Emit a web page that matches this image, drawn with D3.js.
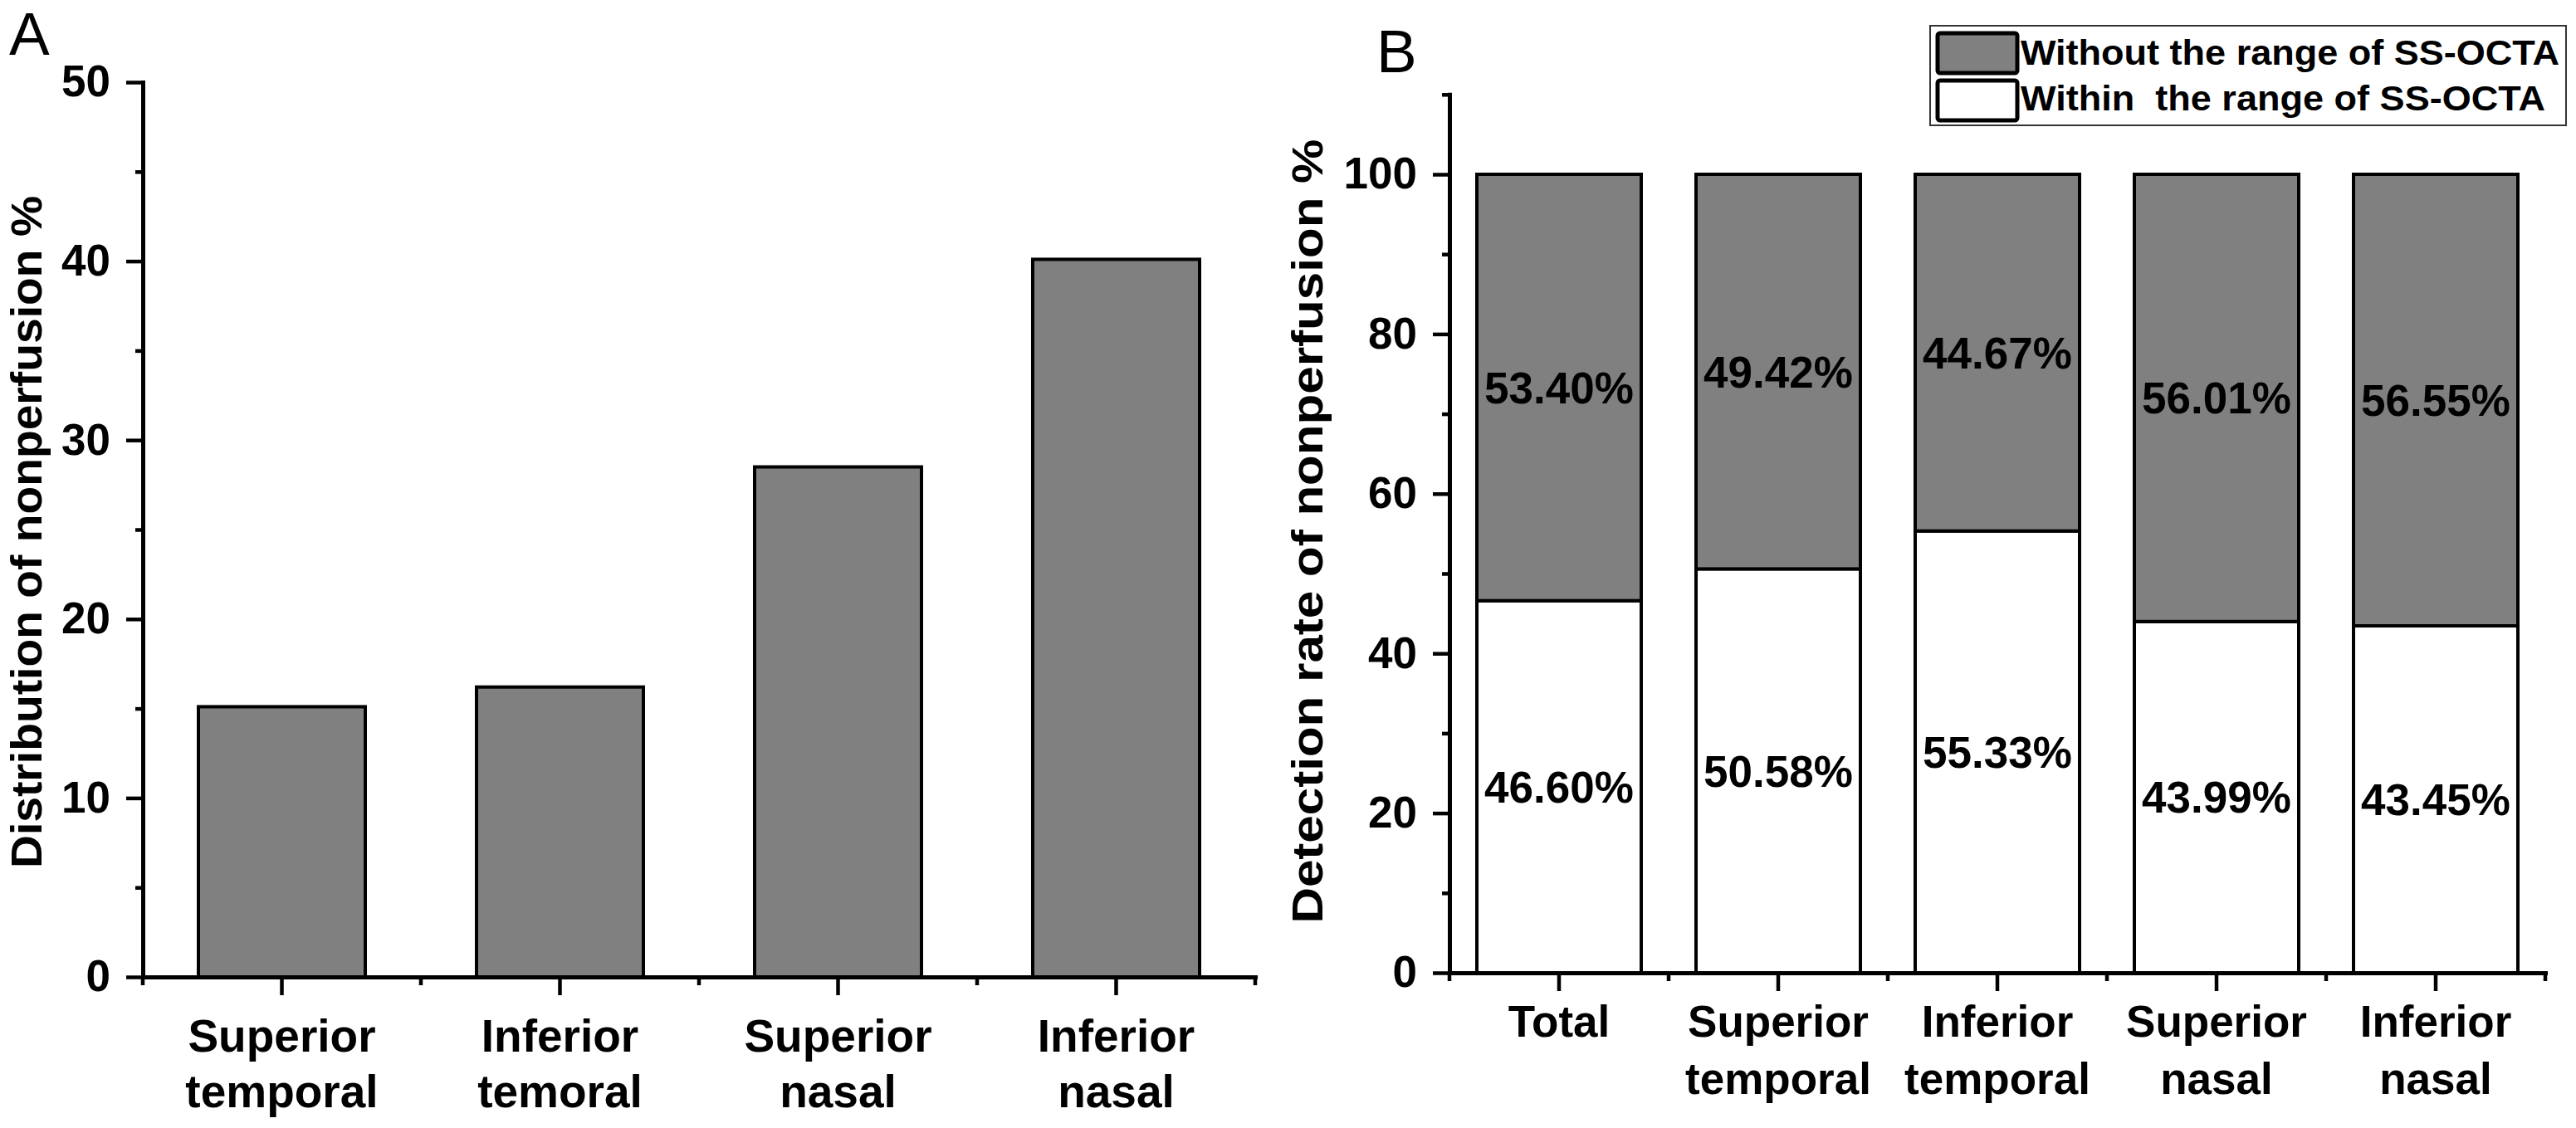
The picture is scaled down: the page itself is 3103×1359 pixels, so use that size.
<!DOCTYPE html>
<html>
<head>
<meta charset="utf-8">
<script src="https://cdn.jsdelivr.net/npm/d3@7"></script>
<style>
  html, body { margin: 0; padding: 0; background: #fff; }
  svg { display: block; }
  text { font-family: "Liberation Sans", Arial, Helvetica, sans-serif; fill: #000; }
</style>
</head>
<body>
<svg id="chart" width="3103" height="1359"></svg>
<script>
// ---------------- data ----------------
const categoriesA = [["Superior", "temporal"], ["Inferior", "temoral"], ["Superior", "nasal"], ["Inferior", "nasal"]];
const valuesA = [15.1, 16.2, 28.5, 40.1];
const yTicksA = [0, 10, 20, 30, 40, 50];
const yMinorA = [5, 15, 25, 35, 45];

const categoriesB = [["Total"], ["Superior", "temporal"], ["Inferior", "temporal"], ["Superior", "nasal"], ["Inferior", "nasal"]];
const withinB = [46.60, 50.58, 55.33, 43.99, 43.45];
const withoutB = [53.40, 49.42, 44.67, 56.01, 56.55];
const yTicksB = [0, 20, 40, 60, 80, 100];
const yMinorB = [10, 30, 50, 70, 90, 110];
const seriesNames = ["Without the range of SS-OCTA", "Within  the range of SS-OCTA"];

// ---------------- setup ----------------
const svg = d3.select("#chart");
const GRAY = "#808080";
const FONT = 53;

function styleAxis(g, width) {
  g.selectAll(".domain").attr("stroke", "#000").attr("stroke-width", width).attr("stroke-linecap", "square");
  g.selectAll(".tick line").attr("stroke", "#000").attr("stroke-width", 4.5);
  g.selectAll(".tick text").attr("font-size", FONT).attr("font-weight", "bold").attr("fill", "#000")
    .attr("font-family", '"Liberation Sans", Arial, sans-serif');
}

function drawPanel(opt) {
  const keys = opt.cats.map((c, i) => "c" + i);
  const x = d3.scaleBand().domain(keys).range([opt.x0, opt.x1])
    .paddingInner(opt.pad).paddingOuter(opt.pad / 2);
  const y = d3.scaleLinear().domain([0, opt.ymax]).range([opt.y0, opt.yTop]);

  // minor y ticks
  const gMinY = svg.append("g").attr("transform", `translate(${opt.x0},0)`)
    .call(d3.axisLeft(y).tickValues(opt.yMinor).tickSize(9).tickSizeOuter(0).tickFormat(""));
  styleAxis(gMinY, 5);
  gMinY.select(".domain").remove();

  // bars
  opt.drawBars(x, y, keys);

  // y axis
  const gy = svg.append("g").attr("transform", `translate(${opt.x0},0)`)
    .call(d3.axisLeft(y).tickValues(opt.yTicks).tickSize(20).tickSizeOuter(0).tickPadding(19).tickFormat(d3.format("d")));
  styleAxis(gy, 5);

  // x axis major ticks
  const gx = svg.append("g").attr("transform", `translate(0,${opt.y0})`)
    .call(d3.axisBottom(x).tickSize(22).tickSizeOuter(0).tickFormat(""));
  styleAxis(gx, 5);

  // x minor ticks at band boundaries
  const step = x.step();
  const bounds = keys.map(k => x(k) - step * opt.pad / 2);
  bounds.push(x(keys[keys.length - 1]) + x.bandwidth() + step * opt.pad / 2);
  svg.append("g").selectAll("line").data(bounds).join("line")
    .attr("x1", d => d).attr("x2", d => d)
    .attr("y1", opt.y0).attr("y2", opt.y0 + 10)
    .attr("stroke", "#000").attr("stroke-width", 4.5);

  // category labels
  const lab = svg.append("g").selectAll("text").data(opt.cats).join("text")
    .attr("text-anchor", "middle").attr("font-size", opt.catFont).attr("font-weight", "bold");
  lab.selectAll("tspan").data((d, i) => d.map(t => ({ t, i }))).join("tspan")
    .attr("x", d => x(keys[d.i]) + x.bandwidth() / 2)
    .attr("y", (d, j) => opt.labBase + j * opt.labLine)
    .text(d => d.t);

  // y title
  svg.append("text")
    .attr("transform", `translate(${opt.titleX},${opt.titleY}) rotate(-90)`)
    .attr("text-anchor", "middle").attr("font-size", 51).attr("font-weight", "bold")
    .attr("textLength", opt.titleLen).attr("lengthAdjust", "spacingAndGlyphs")
    .text(opt.title);

  // panel letter
  svg.append("text").attr("x", opt.letterX).attr("y", opt.letterY)
    .attr("font-size", 73).text(opt.letter);
}

// ---------------- Panel A ----------------
drawPanel({
  cats: categoriesA, x0: 172, x1: 1512, pad: 0.4, y0: 1177, yTop: 99, ymax: 50,
  yTicks: yTicksA, yMinor: yMinorA, catFont: 55, labBase: 1267, labLine: 67,
  title: "Distribution of nonperfusion %", titleX: 50, titleY: 641, titleLen: 810,
  letter: "A", letterX: 11, letterY: 66,
  drawBars: (x, y, keys) => {
    svg.append("g").selectAll("rect").data(valuesA).join("rect")
      .attr("x", (d, i) => x(keys[i])).attr("width", x.bandwidth())
      .attr("y", d => y(d)).attr("height", d => y(0) - y(d))
      .attr("fill", GRAY).attr("stroke", "#000").attr("stroke-width", 4);
  }
});

// ---------------- Panel B ----------------
drawPanel({
  cats: categoriesB, x0: 1746, x1: 3066, pad: 0.25, y0: 1172, yTop: 1172 - 110 * 9.62, ymax: 110,
  yTicks: yTicksB, yMinor: yMinorB, catFont: 53, labBase: 1249, labLine: 69,
  title: "Detection rate of nonperfusion %", titleX: 1593, titleY: 640, titleLen: 945,
  letter: "B", letterX: 1658, letterY: 87,
  drawBars: (x, y, keys) => {
    const rows = keys.map((k, i) => ({ key: k, within: withinB[i], without: withoutB[i] }));
    const stack = d3.stack().keys(["within", "without"])(rows);
    const fills = { within: "#ffffff", without: GRAY };
    const g = svg.append("g");
    stack.forEach(layer => {
      g.append("g").selectAll("rect").data(layer).join("rect")
        .attr("x", d => x(d.data.key)).attr("width", x.bandwidth())
        .attr("y", d => y(d[1])).attr("height", d => y(d[0]) - y(d[1]))
        .attr("fill", fills[layer.key]).attr("stroke", "#000").attr("stroke-width", 4);
    });
    stack.forEach(layer => {
      g.append("g").selectAll("text").data(layer).join("text")
        .attr("x", d => x(d.data.key) + x.bandwidth() / 2)
        .attr("y", d => y((d[0] + d[1]) / 2))
        .attr("dy", "0.36em")
        .attr("text-anchor", "middle").attr("font-size", 53).attr("font-weight", "bold")
        .text(d => d.data[layer.key].toFixed(2) + "%");
    });
  }
});

// ---------------- Legend ----------------
const leg = svg.append("g");
leg.append("rect").attr("x", 2325).attr("y", 31).attr("width", 766).attr("height", 120)
  .attr("fill", "#fff").attr("stroke", "#333").attr("stroke-width", 2);
const legFills = [GRAY, "#ffffff"];
const legLen = [649, 632];
const legItems = leg.selectAll("g.item").data(seriesNames).join("g").attr("class", "item")
  .attr("transform", (d, i) => `translate(2332,${38 + i * 57})`);
legItems.append("rect").attr("x", 2).attr("y", 2).attr("width", 96).attr("height", 48)
  .attr("rx", 3).attr("fill", (d, i) => legFills[i]).attr("stroke", "#000").attr("stroke-width", 5);
legItems.append("text").attr("x", 102).attr("y", (d, i) => 40 - i * 2)
  .attr("font-size", 42).attr("font-weight", "bold").style("white-space", "pre")
  .attr("textLength", (d, i) => legLen[i]).attr("lengthAdjust", "spacingAndGlyphs")
  .text(d => d);
</script>
</body>
</html>
